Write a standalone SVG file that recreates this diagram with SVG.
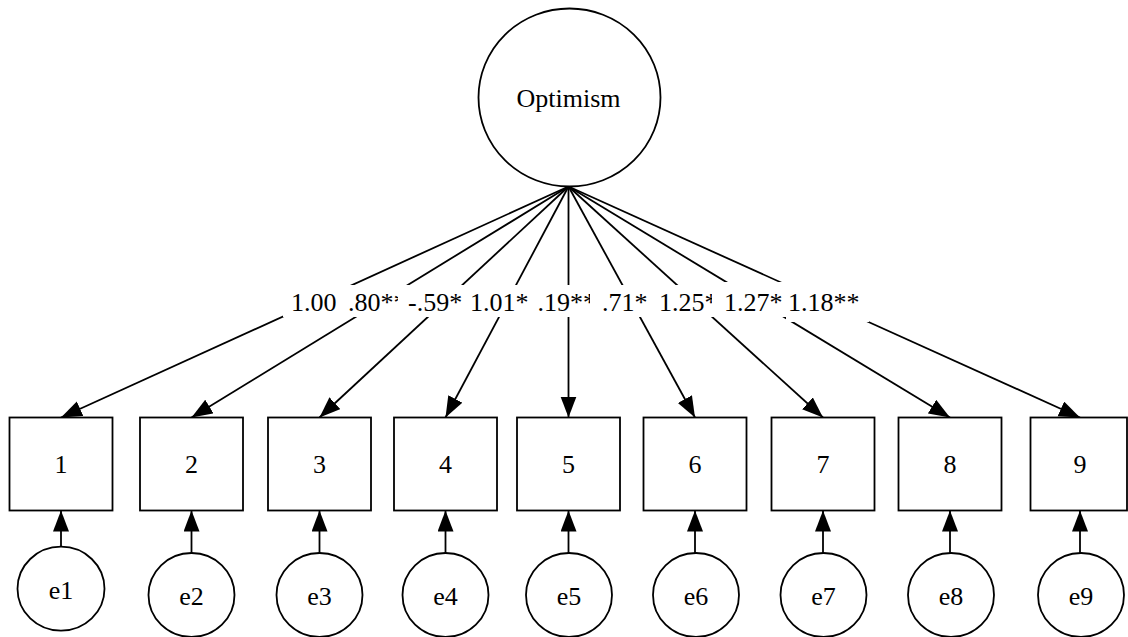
<svg xmlns="http://www.w3.org/2000/svg" width="1128" height="637" viewBox="0 0 1128 637">
  <defs>
    <style>
      .shape { fill: #ffffff; stroke: #000000; stroke-width: 1.8; }
      .edge { fill: none; stroke: #000000; stroke-width: 1.8; marker-end: url(#arrow); }
      .lbl-bg { fill: #ffffff; stroke: none; }
      text { font-family: "Liberation Serif", "Times New Roman", serif; font-size: 26px; fill: #000000; }
      .c { text-anchor: middle; }
    </style>
    <marker id="arrow" markerUnits="userSpaceOnUse" markerWidth="22" markerHeight="17" refX="21" refY="8" orient="auto">
      <path d="M0,0 L21,8 L0,16 Z" fill="#000000"/>
    </marker>
  </defs>
  <rect width="1128" height="637" fill="#ffffff"/>

  <!-- loadings and error paths -->
  <g id="connectors">
    <line class="edge" x1="568.5" y1="186.5" x2="61" y2="417.5"/>
    <line class="edge" x1="568.5" y1="186.5" x2="191.5" y2="417.5"/>
    <line class="edge" x1="568.5" y1="186.5" x2="319.5" y2="417.5"/>
    <line class="edge" x1="568.5" y1="186.5" x2="445.5" y2="417.5"/>
    <line class="edge" x1="568.5" y1="186.5" x2="568.5" y2="417.5"/>
    <line class="edge" x1="568.5" y1="186.5" x2="695" y2="417.5"/>
    <line class="edge" x1="568.5" y1="186.5" x2="823" y2="417.5"/>
    <line class="edge" x1="568.5" y1="186.5" x2="950" y2="417.5"/>
    <line class="edge" x1="568.5" y1="186.5" x2="1080" y2="417.5"/>

    <line class="edge" x1="61" y1="546.7" x2="61" y2="510.5"/>
    <line class="edge" x1="191.5" y1="553" x2="191.5" y2="510.5"/>
    <line class="edge" x1="319.5" y1="553" x2="319.5" y2="510.5"/>
    <line class="edge" x1="445.5" y1="553" x2="445.5" y2="510.5"/>
    <line class="edge" x1="568.5" y1="553" x2="568.5" y2="510.5"/>
    <line class="edge" x1="695" y1="553" x2="695" y2="510.5"/>
    <line class="edge" x1="823" y1="553" x2="823" y2="510.5"/>
    <line class="edge" x1="950" y1="553" x2="950" y2="510.5"/>
    <line class="edge" x1="1080" y1="553" x2="1080" y2="510.5"/>

    <!-- loading labels, each on its own white backing, later ones on top -->
    <rect class="lbl-bg" x="283" y="285" width="67" height="32"/>
    <text x="291" y="311">1.00</text>
    <rect class="lbl-bg" x="343" y="285" width="69" height="32"/>
    <text x="348" y="311">.80**</text>
    <rect class="lbl-bg" x="398" y="285" width="70" height="32"/>
    <text x="408" y="311">-.59*</text>
    <rect class="lbl-bg" x="465" y="285" width="70" height="32"/>
    <text x="470" y="311">1.01*</text>
    <rect class="lbl-bg" x="532" y="285" width="68" height="32"/>
    <text x="537.5" y="311">.19**</text>
    <rect class="lbl-bg" x="590" y="285" width="65" height="32"/>
    <text x="602" y="311">.71*</text>
    <rect class="lbl-bg" x="652" y="285" width="68" height="32"/>
    <text x="659" y="311">1.25*</text>
    <rect class="lbl-bg" x="712" y="282" width="74" height="35"/>
    <text x="724" y="311">1.27*</text>
    <rect class="lbl-bg" x="786" y="282" width="83" height="40"/>
    <text x="788" y="311">1.18**</text>
  </g>

  <g id="optimism">
    <ellipse class="shape" cx="569.5" cy="97.5" rx="91" ry="89"/>
    <text class="c" x="568.5" y="107">Optimism</text>
  </g>

  <g id="item1"><rect class="shape" x="9.5" y="417.5" width="103" height="93"/><text class="c" x="61" y="473">1</text></g>
  <g id="item2"><rect class="shape" x="140" y="417.5" width="103" height="93"/><text class="c" x="191.5" y="473">2</text></g>
  <g id="item3"><rect class="shape" x="268" y="417.5" width="103" height="93"/><text class="c" x="319.5" y="473">3</text></g>
  <g id="item4"><rect class="shape" x="394" y="417.5" width="103" height="93"/><text class="c" x="445.5" y="473">4</text></g>
  <g id="item5"><rect class="shape" x="517" y="417.5" width="103" height="93"/><text class="c" x="568.5" y="473">5</text></g>
  <g id="item6"><rect class="shape" x="643.5" y="417.5" width="103" height="93"/><text class="c" x="695" y="473">6</text></g>
  <g id="item7"><rect class="shape" x="771.5" y="417.5" width="103" height="93"/><text class="c" x="823" y="473">7</text></g>
  <g id="item8"><rect class="shape" x="898.5" y="417.5" width="103" height="93"/><text class="c" x="950" y="473">8</text></g>
  <g id="item9"><rect class="shape" x="1030.5" y="417.5" width="96.5" height="93"/><text class="c" x="1080" y="473">9</text></g>

  <g id="e1"><ellipse class="shape" cx="61" cy="588.7" rx="43.5" ry="42"/><text class="c" x="61" y="599">e1</text></g>
  <g id="e2"><ellipse class="shape" cx="191.5" cy="595" rx="43" ry="42"/><text class="c" x="191.5" y="605">e2</text></g>
  <g id="e3"><ellipse class="shape" cx="319.5" cy="595" rx="43" ry="42"/><text class="c" x="319.5" y="605">e3</text></g>
  <g id="e4"><ellipse class="shape" cx="445.5" cy="595" rx="43" ry="42"/><text class="c" x="445.5" y="605">e4</text></g>
  <g id="e5"><ellipse class="shape" cx="569" cy="595" rx="43" ry="42"/><text class="c" x="569" y="605">e5</text></g>
  <g id="e6"><ellipse class="shape" cx="696" cy="595" rx="43" ry="42"/><text class="c" x="696" y="605">e6</text></g>
  <g id="e7"><ellipse class="shape" cx="823.5" cy="595" rx="43" ry="42"/><text class="c" x="823.5" y="605">e7</text></g>
  <g id="e8"><ellipse class="shape" cx="951" cy="595" rx="43" ry="42"/><text class="c" x="951" y="605">e8</text></g>
  <g id="e9"><ellipse class="shape" cx="1081" cy="595" rx="43" ry="42"/><text class="c" x="1081" y="605">e9</text></g>
</svg>
